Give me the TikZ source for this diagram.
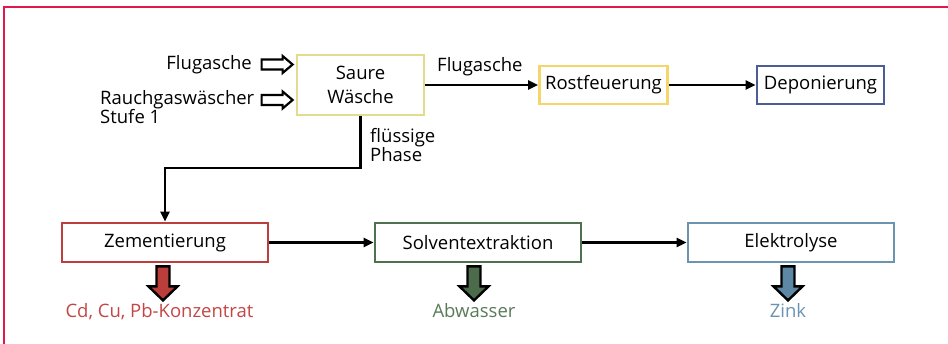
\documentclass[tikz,border=0pt]{standalone}
\usepackage{fontspec}
\setmainfont{Open Sans}
\usetikzlibrary{arrows.meta,calc}
\definecolor{framec}{HTML}{E2174B}
\definecolor{khaki}{HTML}{E2DC8E}
\definecolor{yel}{HTML}{F6D56A}
\definecolor{dblue}{HTML}{4C5C96}
\definecolor{zred}{HTML}{BC3F3D}
\definecolor{zgreen}{HTML}{4F7150}
\definecolor{lblue}{HTML}{6B94B0}
\definecolor{redfill}{HTML}{BB3E3B}
\definecolor{greenfill}{HTML}{4C6B4A}
\definecolor{bluefill}{HTML}{5C88A6}
\definecolor{redtext}{HTML}{C34644}
\definecolor{greentext}{HTML}{587A56}
\definecolor{bluetext}{HTML}{6A93B3}
\begin{document}
\begin{tikzpicture}[x=1pt,y=-1pt,
  font=\fontsize{18.5}{18}\selectfont,
  box/.style={draw, line width=2.8pt, fill=white, minimum width=206pt, minimum height=39pt, inner sep=0pt},
  conn/.style={line width=2.5pt, -{Triangle[length=10pt,width=9pt]}},
  lbl/.style={inner sep=0pt},
  hollow/.pic={\draw[line width=2.2pt, fill=white, line join=miter] (0,0) -- (-10,-8.5) -- (-10,-5) -- (-31,-5) -- (-31,5) -- (-10,5) -- (-10,8.5) -- cycle;},
  down/.pic={\draw[line width=2.4pt, fill=#1, line join=miter] (0,0) -- (-14.5,-14) -- (-6.5,-14) -- (-6.5,-34) -- (6.5,-34) -- (6.5,-14) -- (14.5,-14) -- cycle;}
]
\useasboundingbox (0,0) rectangle (948,344);
\draw[framec, line width=1.6pt] (4,344) -- (4,7) -- (948,7);

\node[box, draw=khaki, minimum width=127pt, minimum height=60pt, align=center, font=\fontsize{18.5}{24}\selectfont] (sw) at (360.5,85) {Saure\\Wäsche};
\node[box, draw=yel, minimum width=128pt, minimum height=38pt] (rf) at (603.5,85) {Rostfeuerung};
\node[box, draw=dblue, minimum width=127pt, minimum height=38pt] (dp) at (820.5,85) {Deponierung};
\node[box, draw=zred] (ze) at (165,242.5) {Zementierung};
\node[box, draw=zgreen] (so) at (478,242.5) {Solventextraktion};
\node[box, draw=lblue] (el) at (791,242.5) {Elektrolyse};

\node[lbl, anchor=base east] (fa1) at (252,70) {Flugasche};
\node[lbl, anchor=base west, align=left] (rg) at (100,124) {Rauchgaswäscher\\Stufe 1};
\node[lbl, anchor=base west] (fa2) at (437,72) {Flugasche};
\node[lbl, anchor=base west, align=left] (fp) at (370,162) {flüssige\\Phase};

\pic at ($(sw.west)+(-3,-20.5)$) {hollow};
\pic at ($(sw.west)+(-3,15)$) {hollow};

\coordinate (bend) at (0,168);
\draw[conn] (sw.east |- rf.west) -- (rf.west);
\draw[conn] (rf) -- (dp);
\draw[conn] (sw.south) -- (sw.south |- bend) -| (ze.north);
\draw[conn] (ze) -- (so);
\draw[conn] (so) -- (el);

\pic at ($(ze.south)+(-2,37)$) {down=redfill};
\pic at ($(so.south)+(-4,37)$) {down=greenfill};
\pic at ($(el.south)+(-3,37)$) {down=bluefill};

\node[lbl, anchor=base, text=redtext] (cd) at (159.5,318) {Cd, Cu, Pb-Konzentrat};
\node[lbl, anchor=base, text=greentext] (ab) at (474,318) {Abwasser};
\node[lbl, anchor=base, text=bluetext] (zk) at (788,318) {Zink};
\end{tikzpicture}
\end{document}
